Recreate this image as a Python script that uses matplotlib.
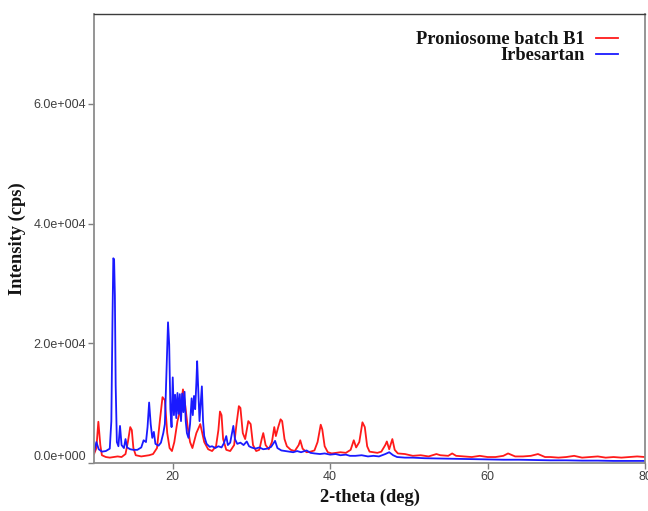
import matplotlib
matplotlib.use("Agg")
import matplotlib.pyplot as plt
from matplotlib.ticker import FuncFormatter

# XRD patterns digitised as (2-theta, counts) vertices
irb_theta = [10.0, 10.3, 10.6, 11.0, 11.5, 12.0, 12.2, 12.35, 12.45, 12.55, 12.65, 12.75,
             12.9, 13.1, 13.3, 13.5, 13.8, 14.0, 14.2, 14.6, 15.0, 15.5, 16.0, 16.3, 16.6,
             16.8, 17.0, 17.2, 17.4, 17.6, 17.8, 18.2, 18.5, 18.8, 19.0, 19.2, 19.4, 19.55,
             19.7, 19.85, 20.0, 20.15, 20.3, 20.45, 20.6, 20.75, 20.9, 21.05, 21.2, 21.35,
             21.5, 21.65, 21.8, 22.0, 22.2, 22.4, 22.55, 22.7, 22.85, 23.0, 23.1, 23.25,
             23.4, 23.55, 23.7, 23.85, 24.0, 24.3, 24.7, 25.0, 25.4, 25.8, 26.2, 26.5, 26.8,
             27.0, 27.3, 27.7, 27.9, 28.2, 28.6, 29.0, 29.4, 29.7, 30.0, 30.5, 31.0, 31.5,
             32.0, 32.5, 33.0, 33.3, 33.8, 34.3, 34.8, 35.3, 35.8, 36.3, 37.0, 37.5, 38.0,
             38.7, 39.3, 40.0, 40.7, 41.3, 42.0, 42.5, 43.2, 44.0, 44.8, 45.5, 46.2, 47.0,
             47.5, 48.0, 48.5, 49.5, 50.5, 52.0, 54.0, 56.0, 58.0, 60.0, 62.0, 64.0, 66.0,
             68.0, 70.0, 72.0, 74.0, 76.0, 78.0, 80.0]
irb_counts = [1800, 3500, 2300, 1900, 2000, 2400, 7000, 24500, 34200, 34000, 28000, 13000,
              3500, 2800, 6200, 3000, 2500, 4000, 2600, 2300, 2200, 2200, 2600, 3800, 3500,
              6000, 10100, 6500, 4200, 5200, 3200, 2900, 3400, 5000, 6500, 15000, 23500, 19800,
              9000, 6000, 14300, 8000, 11400, 7500, 11700, 8200, 11500, 7000, 11600, 8500,
              11900, 7000, 5000, 4200, 6500, 10800, 8000, 11200, 9000, 13400, 17000, 12000,
              7000, 10000, 12800, 7000, 4500, 3200, 2700, 2800, 2500, 2800, 2600, 3300, 4500,
              3000, 3400, 6200, 4000, 3200, 3400, 3000, 3600, 2800, 2600, 2400, 2600, 2300,
              2400, 2700, 3700, 2500, 2100, 2000, 1900, 1800, 2000, 1800, 2100, 1700, 1600,
              1500, 1600, 1400, 1500, 1300, 1400, 1200, 1200, 1300, 1100, 1200, 1100, 1500,
              1800, 1300, 1000, 900, 900, 800, 750, 700, 650, 600, 550, 550, 500,
              450, 450, 400, 400, 350, 350, 350]

b1_theta = [10.0, 10.3, 10.55, 10.8, 11.0, 11.5, 12.0, 12.5, 13.0, 13.5, 14.0, 14.3, 14.6,
            14.8, 15.0, 15.3, 16.0, 16.5, 17.0, 17.5, 18.0, 18.4, 18.7, 19.0, 19.3, 19.6,
            19.9, 20.2, 20.6, 21.0, 21.3, 21.6, 21.9, 22.2, 22.5, 23.0, 23.5, 24.0, 24.5,
            25.0, 25.5, 25.8, 26.0, 26.2, 26.4, 26.8, 27.3, 27.8, 28.1, 28.4, 28.6, 28.9,
            29.2, 29.6, 29.9, 30.2, 30.6, 31.0, 31.3, 31.5, 31.8, 32.2, 32.6, 32.9, 33.1,
            33.4, 33.7, 33.9, 34.2, 34.5, 35.0, 35.5, 36.0, 36.2, 36.5, 37.0, 37.5, 38.0,
            38.4, 38.8, 39.0, 39.3, 39.7, 40.2, 40.8, 41.3, 42.0, 42.6, 43.0, 43.3, 43.7,
            44.1, 44.4, 44.7, 45.0, 45.5, 46.0, 46.5, 47.0, 47.2, 47.5, 47.9, 48.2, 48.6,
            49.5, 50.5, 51.5, 52.5, 53.5, 54.0, 55.0, 55.5, 56.0, 57.0, 58.0, 59.0, 60.0,
            61.0, 62.0, 62.6, 63.5, 64.5, 65.5, 66.4, 67.3, 68.0, 69.0, 70.0, 71.0, 72.0,
            73.0, 74.0, 75.0, 76.0, 77.0, 78.0, 79.0, 80.0]
b1_counts = [1500, 2500, 6900, 3000, 1300, 1000, 900, 1000, 1100, 1000, 1500, 3500, 6000,
             5500, 2500, 1300, 1100, 1200, 1300, 1500, 2500, 7500, 11000, 10500, 5000, 2500,
             2000, 3500, 7000, 9000, 12300, 9500, 6000, 3500, 2500, 5000, 6500, 3500, 2300,
             2000, 2800, 5500, 8600, 8000, 4000, 2200, 2000, 3000, 6500, 9500, 9200, 5000,
             4000, 7000, 6500, 3000, 2000, 2200, 4000, 5000, 3000, 2300, 3500, 6000, 4500,
             6000, 7300, 7000, 4000, 2800, 2200, 2000, 3000, 3800, 2400, 1800, 1900, 2100,
             3500, 6400, 5600, 2800, 1800, 1600, 1700, 1800, 1700, 2200, 3800, 2600, 3500,
             6800, 6000, 2800, 1900, 1800, 1700, 1900, 3000, 3600, 2300, 4000, 2200, 1600,
             1500, 1200, 1300, 1100, 1500, 1300, 1200, 1600, 1200, 1100, 1000, 1200, 1000,
             1000, 1200, 1600, 1100, 1100, 1200, 1500, 1000, 1000, 900, 1000, 1200, 900,
             1000, 1100, 900, 1000, 900, 1000, 1100, 1000]

x_ticks = [20, 40, 60, 80]
y_ticks = [0, 20000, 40000, 60000]

serif = ["Liberation Serif", "DejaVu Serif"]
sans = ["Liberation Sans", "DejaVu Sans"]
label_color = "#141414"
tick_color = "#3f3f3f"


def sci_label(v, pos):
    # 6.0e+004 style labels
    if v == 0:
        return "0.0e+000"
    s = f"{v:.1e}"
    mant, exp = s.split("e")
    e = int(exp)
    return f"{mant}e{'+' if e >= 0 else '-'}{abs(e):03d}"


fig = plt.figure(figsize=(6.48, 5.11), dpi=100)
ax = fig.add_axes([0.1451, 0.0939, 0.8503, 0.8787])

ax.plot(b1_theta, b1_counts, color="#ff1a1a", linewidth=1.3, label="Proniosome batch B1")
ax.plot(irb_theta, irb_counts, color="#1a1aff", linewidth=1.3, label="Irbesartan")

ax.set_xlim(10, 80)
ax.set_ylim(0, 75000)
ax.set_xticks(x_ticks)
ax.set_yticks(y_ticks)
ax.yaxis.set_major_formatter(FuncFormatter(sci_label))

ax.tick_params(axis="both", direction="out", length=4, width=1, color="#7f7f7f",
               labelcolor=tick_color, labelsize=9, pad=1.5)
for lab in ax.get_xticklabels() + ax.get_yticklabels():
    lab.set_family(sans)
# lift the zero label off the corner
ax.yaxis.get_major_ticks()[0].label1.set_va("bottom")

for name, sp in ax.spines.items():
    sp.set_color("#8c8c8c")
    sp.set_linewidth(1.3)
ax.spines["top"].set_color("#3c3c3c")
ax.spines["top"].set_linewidth(1.0)

ax.set_xlabel("2-theta (deg)", fontsize=13.3, fontweight="bold", family=serif, color=label_color)
ax.set_ylabel("Intensity (cps)", fontsize=13.3, fontweight="bold", family=serif, color=label_color)
ax.xaxis.label.set_va("center")
ax.yaxis.label.set_va("center")
ax.xaxis.set_label_coords(0.5, -0.076)
ax.yaxis.set_label_coords(-0.14, 0.5)

leg = ax.legend(loc="upper right", bbox_to_anchor=(0.975, 0.99), frameon=False,
                markerfirst=False, handlelength=1.2, handletextpad=0.6,
                labelspacing=-0.05, borderpad=0.2,
                prop={"family": serif, "weight": "bold", "size": 13.3})
for t in leg.get_texts():
    t.set_color(label_color)

fig.savefig("out.png", dpi=100, facecolor="white")
